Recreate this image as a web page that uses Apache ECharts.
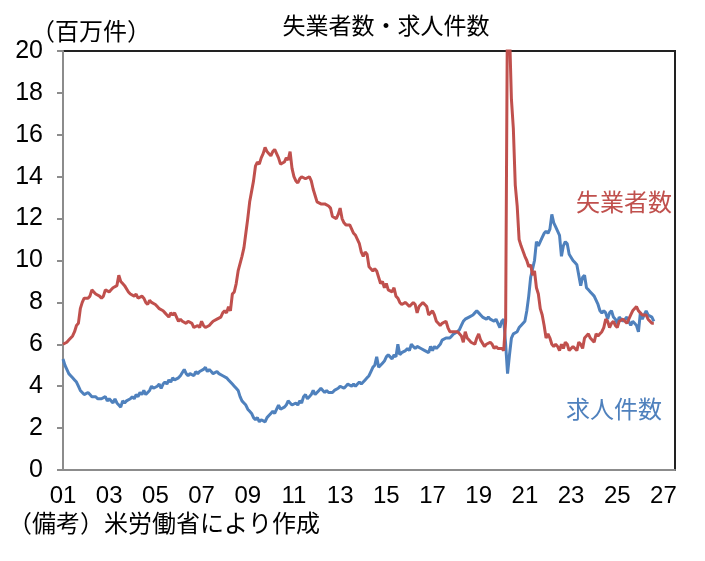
<!DOCTYPE html>
<html>
<head>
<meta charset="utf-8">
<title>失業者数・求人件数</title>
<script src="https://cdn.jsdelivr.net/npm/echarts@6/dist/echarts.min.js"></script>
<style>
	html, body { margin: 0; padding: 0; background: #fff; }
	#main { width: 705px; height: 561px; }
</style>
</head>
<body>
<div id="main"></div>
<script>
// 月次データ（百万件）、2001年1月から
var startYear = 2001;
var unemployed = [
	6.0, 6.0, 6.1, 6.2, 6.3, 6.4, 6.6, 6.9, 7.0, 7.7, 8.0, 8.2, // 2001
	8.2, 8.2, 8.3, 8.6, 8.5, 8.4, 8.4, 8.3, 8.2, 8.3, 8.6, 8.6, // 2002
	8.5, 8.6, 8.7, 8.7, 8.8, 9.3, 9.0, 8.9, 8.8, 8.8, 8.5, 8.4, // 2003
	8.4, 8.3, 8.4, 8.2, 8.2, 8.3, 8.2, 8.0, 7.9, 8.1, 8.0, 8.0, // 2004
	7.9, 7.8, 7.7, 7.7, 7.6, 7.5, 7.4, 7.3, 7.5, 7.4, 7.5, 7.3, // 2005
	7.1, 7.2, 7.1, 7.1, 7.0, 7.1, 7.1, 7.0, 6.8, 6.8, 6.9, 6.8, // 2006
	7.1, 6.9, 6.8, 6.8, 6.9, 7.0, 7.1, 7.1, 7.2, 7.2, 7.3, 7.5, // 2007
	7.6, 7.5, 7.8, 7.6, 8.4, 8.5, 8.9, 9.5, 9.5, 10.2, 10.6, 11.3, // 2008
	12.0, 12.8, 13.3, 13.8, 14.5, 14.7, 14.6, 14.9, 15.1, 15.4, 15.2, 15.1, // 2009
	15.0, 15.2, 15.3, 15.3, 14.9, 14.6, 14.6, 14.7, 14.9, 14.8, 15.2, 14.4, // 2010
	14.0, 13.8, 13.7, 13.9, 14.0, 14.0, 13.9, 13.9, 14.0, 13.8, 13.4, 13.1, // 2011
	12.8, 12.8, 12.7, 12.7, 12.7, 12.7, 12.6, 12.5, 12.1, 12.1, 12.0, 12.2, // 2012
	12.5, 12.0, 11.8, 11.7, 11.7, 11.7, 11.5, 11.3, 11.2, 11.2, 10.8, 10.4, // 2013
	10.2, 10.4, 10.3, 9.7, 9.7, 9.5, 9.6, 9.5, 9.2, 8.9, 9.0, 8.7, // 2014
	8.9, 8.6, 8.6, 8.5, 8.7, 8.3, 8.2, 8.0, 7.9, 7.9, 8.0, 7.9, // 2015
	7.8, 7.8, 8.0, 7.9, 7.5, 7.8, 7.8, 8.0, 7.9, 7.8, 7.4, 7.5, // 2016
	7.6, 7.4, 7.1, 7.0, 6.9, 7.0, 7.0, 7.1, 6.8, 6.6, 6.6, 6.6, // 2017
	6.6, 6.6, 6.5, 6.4, 6.1, 6.6, 6.3, 6.2, 6.1, 6.1, 6.0, 6.3, // 2018
	6.5, 6.2, 6.2, 5.9, 6.0, 6.0, 6.1, 6.0, 5.8, 5.9, 5.8, 5.8, // 2019
	5.8, 5.7, 7.1, 23.1, 21.0, 17.7, 16.3, 13.6, 12.6, 11.0, 10.7, 10.7, // 2020
	10.2, 10.0, 9.7, 9.8, 9.3, 9.5, 8.7, 8.4, 7.7, 7.4, 6.9, 6.3, // 2021
	6.5, 6.3, 6.0, 5.9, 6.0, 5.9, 5.7, 6.0, 5.8, 6.1, 6.0, 5.7, // 2022
	5.7, 5.9, 5.8, 5.7, 6.1, 6.0, 5.8, 6.3, 6.3, 6.5, 6.3, 6.3, // 2023
	6.1, 6.5, 6.4, 6.5, 6.6, 6.8, 7.2, 7.1, 6.8, 7.0, 7.1, 6.9, // 2024
	6.8, 7.1, 7.1, 7.2, 7.2, 7.0, 7.2, 7.4, 7.6, 7.6, 7.8, 7.6, // 2025
	7.5, 7.4, 7.4, 7.4, 7.2, 7.1, 7.0, 7.0 // 2026
];
var openings = [
	5.3, 5.0, 4.8, 4.6, 4.5, 4.4, 4.3, 4.2, 4.0, 3.8, 3.7, 3.6, // 2001
	3.6, 3.7, 3.6, 3.5, 3.5, 3.5, 3.4, 3.4, 3.4, 3.4, 3.5, 3.3, // 2002
	3.4, 3.3, 3.2, 3.4, 3.2, 3.1, 3.0, 3.3, 3.2, 3.3, 3.3, 3.4, // 2003
	3.5, 3.4, 3.6, 3.5, 3.7, 3.6, 3.8, 3.6, 3.7, 3.8, 4.0, 3.9, // 2004
	3.9, 4.0, 4.1, 3.9, 4.1, 4.2, 4.1, 4.3, 4.2, 4.4, 4.3, 4.3, // 2005
	4.4, 4.5, 4.5, 4.8, 4.6, 4.5, 4.6, 4.6, 4.5, 4.7, 4.6, 4.7, // 2006
	4.7, 4.8, 4.9, 4.7, 4.8, 4.7, 4.6, 4.6, 4.7, 4.6, 4.6, 4.5, // 2007
	4.5, 4.4, 4.3, 4.2, 4.1, 4.0, 3.9, 3.8, 3.5, 3.3, 3.2, 3.1, // 2008
	2.9, 2.8, 2.7, 2.5, 2.4, 2.5, 2.3, 2.4, 2.4, 2.3, 2.5, 2.6, // 2009
	2.7, 2.8, 2.7, 2.9, 3.1, 2.9, 2.9, 3.0, 3.1, 3.3, 3.2, 3.1, // 2010
	3.1, 3.2, 3.1, 3.3, 3.2, 3.5, 3.6, 3.4, 3.5, 3.6, 3.8, 3.6, // 2011
	3.7, 3.8, 3.9, 3.8, 3.7, 3.8, 3.7, 3.7, 3.7, 3.8, 3.8, 3.9, // 2012
	4.0, 4.0, 3.9, 4.0, 4.1, 4.1, 4.0, 4.1, 4.0, 4.1, 4.2, 4.1, // 2013
	4.2, 4.3, 4.4, 4.5, 4.7, 4.9, 5.0, 5.4, 4.9, 5.0, 5.1, 5.2, // 2014
	5.4, 5.5, 5.4, 5.3, 5.5, 5.4, 6.0, 5.5, 5.6, 5.6, 5.7, 5.8, // 2015
	5.7, 6.0, 5.9, 5.8, 5.9, 5.9, 5.8, 5.8, 5.7, 5.7, 5.6, 5.9, // 2016
	5.7, 5.9, 5.8, 5.9, 6.0, 6.2, 6.2, 6.3, 6.3, 6.3, 6.4, 6.5, // 2017
	6.5, 6.6, 6.7, 6.9, 7.1, 7.2, 7.2, 7.3, 7.3, 7.4, 7.5, 7.6, // 2018
	7.5, 7.4, 7.3, 7.3, 7.2, 7.3, 7.2, 7.2, 7.1, 7.2, 7.2, 6.8, // 2019
	7.1, 7.2, 6.0, 4.6, 5.5, 6.3, 6.5, 6.5, 6.6, 6.8, 6.9, 6.9, // 2020
	7.1, 7.6, 8.3, 9.2, 9.6, 10.0, 10.9, 10.7, 10.9, 11.1, 11.3, 11.4, // 2021
	11.3, 11.5, 12.2, 11.8, 11.6, 11.4, 11.2, 10.2, 10.7, 10.9, 10.8, 10.3, // 2022
	10.3, 10.0, 9.9, 9.8, 9.3, 8.8, 9.2, 9.3, 8.7, 8.6, 8.5, 8.4, // 2023
	8.3, 8.3, 7.9, 7.6, 7.5, 7.6, 7.5, 7.2, 7.5, 7.6, 7.3, 7.2, // 2024
	7.0, 7.3, 7.2, 7.1, 7.2, 7.3, 7.1, 6.9, 7.1, 7.0, 6.9, 6.6, // 2025
	7.5, 7.2, 7.2, 7.6, 7.4, 7.4, 7.3, 7.1 // 2026
];
var xTickLabels = ['01', '03', '05', '07', '09', '11', '13', '15', '17', '19', '21', '23', '25', '27'];

var numFont = "'Liberation Sans Narrow', 'Arial Narrow', 'Liberation Sans', sans-serif";
var jpFont = "'Noto Sans CJK JP', sans-serif";

function toPoints(arr) {
	var pts = [];
	for (var i = 0; i < arr.length; i++) {
		pts.push([startYear + i / 12, arr[i]]);
	}
	return pts;
}

var myChart = echarts.init(document.getElementById('main'), null, { renderer: 'canvas' });

var option = {
	backgroundColor: '#fff',
	animation: false,
	title: {
		text: '失業者数・求人件数',
		left: 381,
		top: 9,
		textAlign: 'center',
		textStyle: { fontFamily: jpFont, fontSize: 23, fontWeight: 'normal', color: '#000' }
	},
	grid: {
		left: 63,
		right: 30,
		top: 51,
		bottom: 91,
		show: true,
		borderColor: '#222',
		borderWidth: 2
	},
	xAxis: {
		type: 'value',
		min: 2001,
		max: 2027.5,
		interval: 2,
		axisLine: { show: true, onZero: false, lineStyle: { color: '#8c8c8c', width: 2 } },
		axisTick: { show: false },
		splitLine: { show: false },
		axisLabel: {
			margin: 14,
			fontFamily: numFont,
			fontSize: 24,
			color: '#000',
			showMaxLabel: false,
			formatter: function(v) {
				var idx = (v - startYear) / 2;
				if (Math.abs(idx - Math.round(idx)) > 1e-6) return '';
				return xTickLabels[Math.round(idx)] || '';
			}
		}
	},
	yAxis: {
		type: 'value',
		min: 0,
		max: 20,
		interval: 2,
		axisLine: { show: true, lineStyle: { color: '#8c8c8c', width: 2 } },
		axisTick: { show: true, inside: false, length: 6, lineStyle: { color: '#8c8c8c', width: 2 } },
		splitLine: { show: false },
		axisLabel: { margin: 20, fontFamily: numFont, fontSize: 25, color: '#000' }
	},
	graphic: [
		{
			type: 'text', left: 31, top: 19,
			style: { text: '（百万件）', font: '24px ' + jpFont, fill: '#000' }
		},
		{
			type: 'text', left: 576, top: 190,
			style: { text: '失業者数', font: '24px ' + jpFont, fill: '#C0504D' }
		},
		{
			type: 'text', left: 566, top: 397,
			style: { text: '求人件数', font: '24px ' + jpFont, fill: '#4F81BD' }
		},
		{
			type: 'text', left: 8, top: 511,
			style: { text: '（備考）米労働省により作成', font: '24px ' + jpFont, fill: '#000' }
		}
	],
	series: [
		{
			name: '求人件数',
			type: 'line',
			showSymbol: false,
			clip: true,
			lineStyle: { color: '#4F81BD', width: 3 },
			data: toPoints(openings)
		},
		{
			name: '失業者数',
			type: 'line',
			showSymbol: false,
			clip: true,
			lineStyle: { color: '#C0504D', width: 3 },
			data: toPoints(unemployed)
		}
	]
};

myChart.setOption(option);
</script>
</body>
</html>
